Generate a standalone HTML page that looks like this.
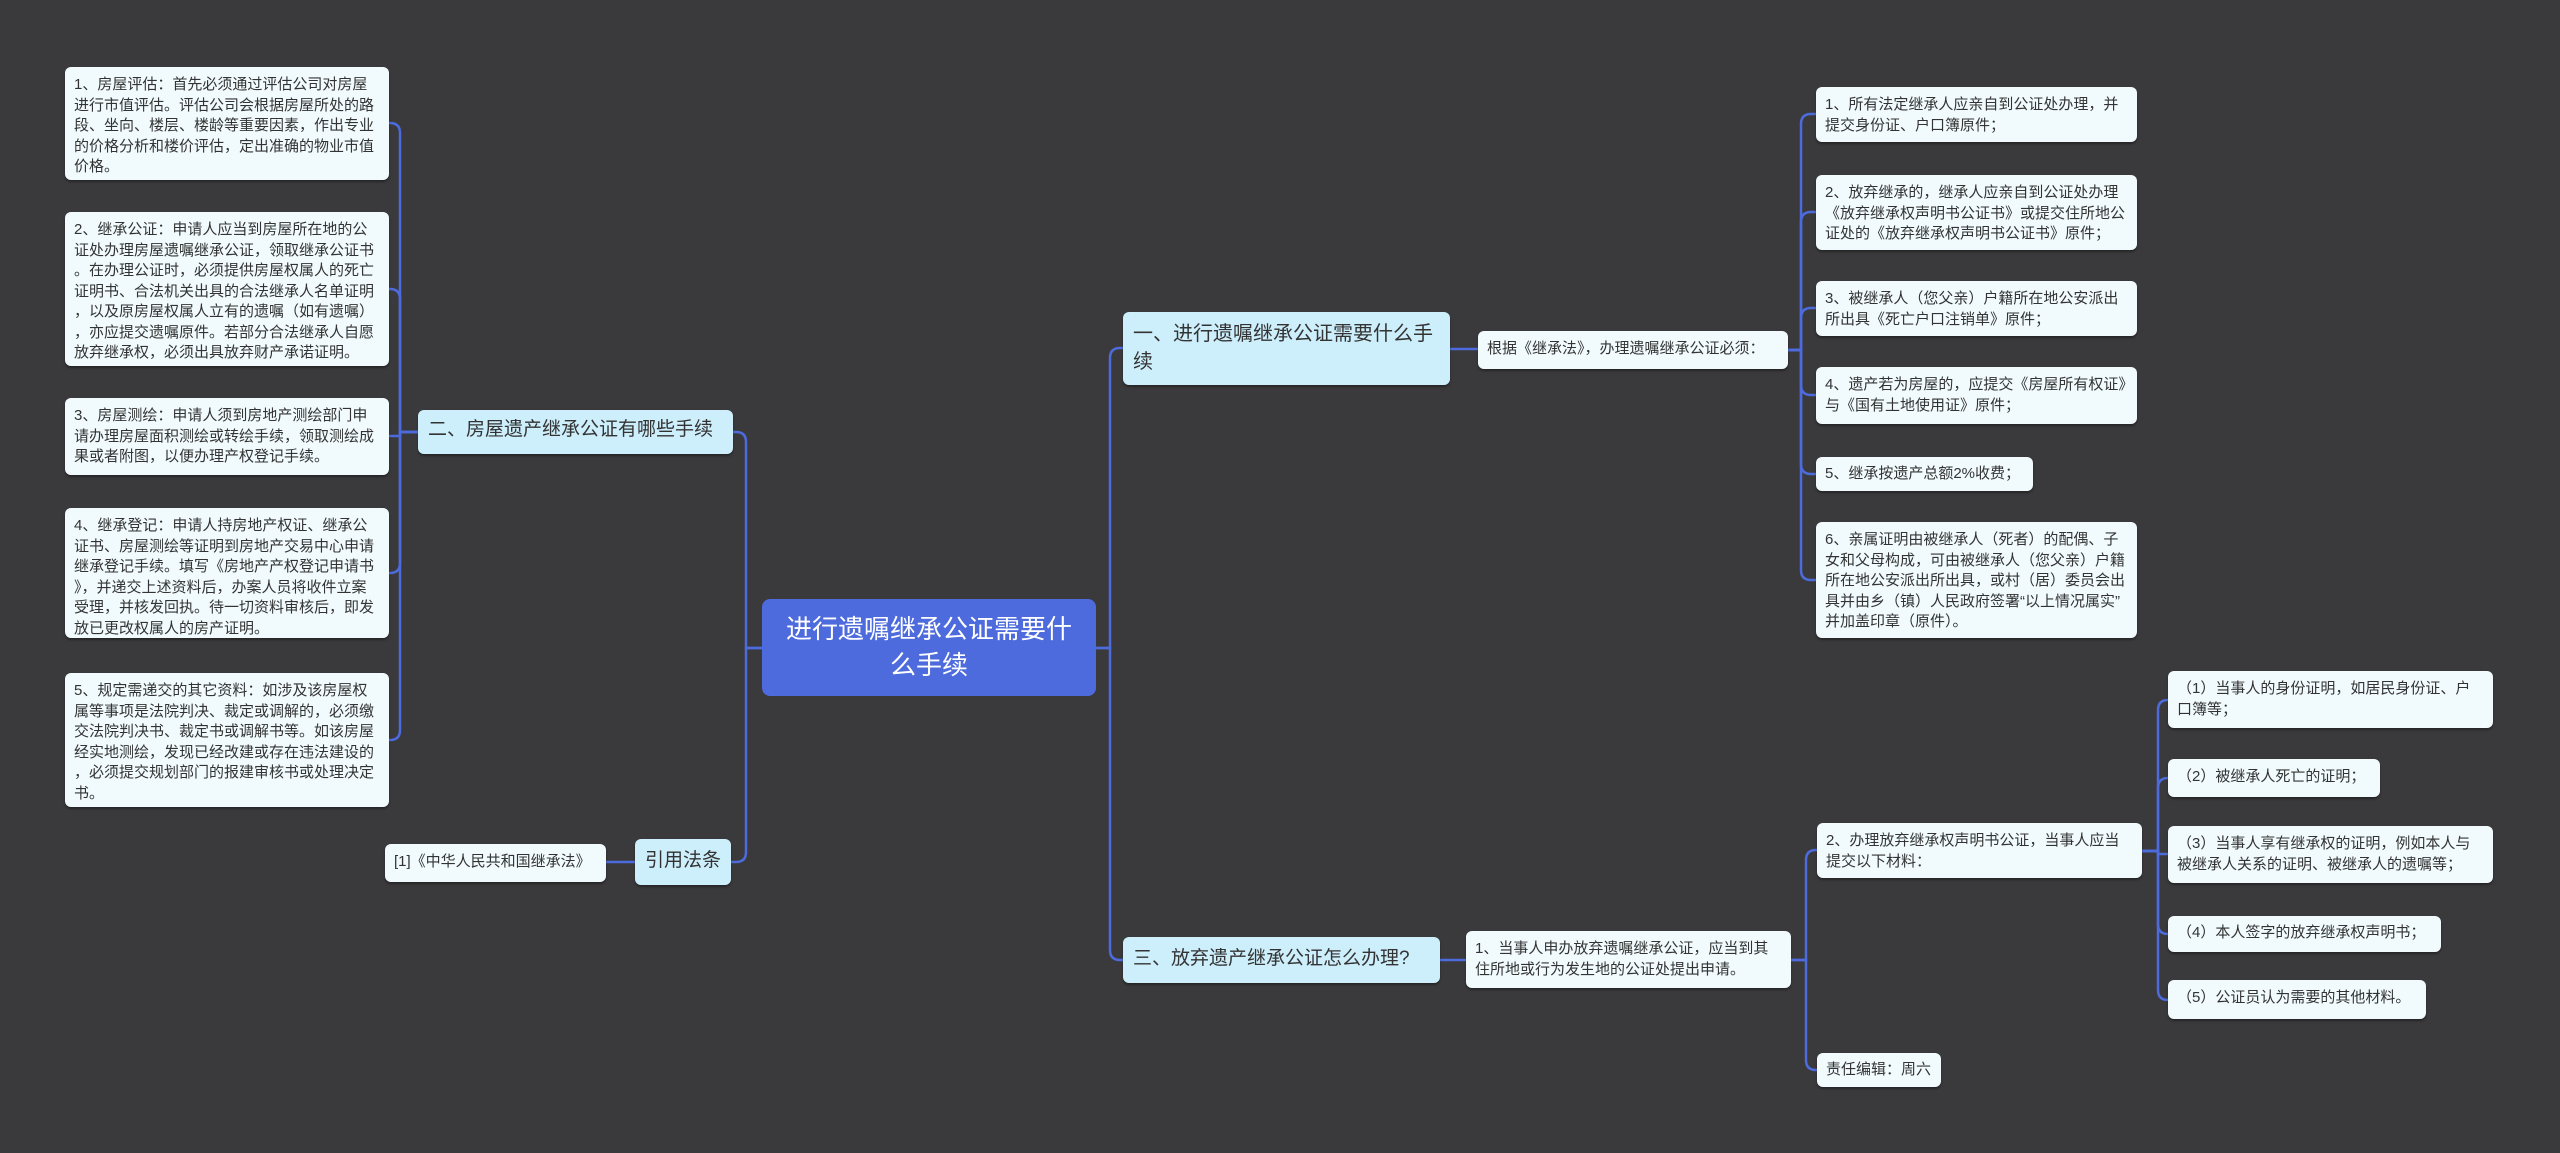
<!DOCTYPE html>
<html><head><meta charset="utf-8">
<style>
html,body{margin:0;padding:0;}
body{width:2560px;height:1153px;background:#3a393b;position:relative;overflow:hidden;font-family:"Liberation Sans","Noto Sans CJK SC",sans-serif;}
.b{position:absolute;box-sizing:border-box;background:#f1fbfe;border-radius:6px;color:#333;font-size:15px;line-height:20.5px;padding:8px 9px;box-shadow:0 2px 2px rgba(0,0,0,.35);word-break:break-all;line-break:anywhere;overflow:hidden;}
.n{position:absolute;box-sizing:border-box;background:#cdeefb;border-radius:6px;color:#333;font-size:19px;line-height:28px;padding:6px 10px;box-shadow:0 2px 2px rgba(0,0,0,.35);word-break:break-all;line-break:anywhere;}
.c{position:absolute;box-sizing:border-box;background:#4d6bdc;border-radius:8px;color:#fff;font-size:26px;line-height:36px;text-align:center;padding:12px 16px;}
svg{position:absolute;left:0;top:0;}
</style></head><body>
<svg width="2560" height="1153" fill="none" stroke="#4d6bdc" stroke-width="2.5">
<path d="M762 648 L746 648 L746 442 Q746 432 736 432 L733 432"/>
<path d="M762 648 L746 648 L746 852 Q746 862 736 862 L731 862"/>
<path d="M418 432 L400 432 L400 133 Q400 123 390 123 L389 123"/>
<path d="M418 432 L400 432 L400 299 Q400 289 390 289 L389 289"/>
<path d="M418 432 L400 432 L400 436 L389 436"/>
<path d="M418 432 L400 432 L400 563 Q400 573 390 573 L389 573"/>
<path d="M418 432 L400 432 L400 730 Q400 740 390 740 L389 740"/>
<path d="M635 862 L606 862"/>
<path d="M1096 648 L1110 648 L1110 358 Q1110 348 1120 348 L1123 348"/>
<path d="M1096 648 L1110 648 L1110 950 Q1110 960 1120 960 L1123 960"/>
<path d="M1450 349 L1478 349"/>
<path d="M1788 350 L1801 350 L1801 124 Q1801 114 1811 114 L1816 114"/>
<path d="M1788 350 L1801 350 L1801 222 Q1801 212 1811 212 L1816 212"/>
<path d="M1788 350 L1801 350 L1801 318 Q1801 308 1811 308 L1816 308"/>
<path d="M1788 350 L1801 350 L1801 385 Q1801 395 1811 395 L1816 395"/>
<path d="M1788 350 L1801 350 L1801 464 Q1801 474 1811 474 L1816 474"/>
<path d="M1788 350 L1801 350 L1801 570 Q1801 580 1811 580 L1816 580"/>
<path d="M1440 960 L1466 960"/>
<path d="M1791 960 L1806 960 L1806 860 Q1806 850 1816 850 L1817 850"/>
<path d="M1791 960 L1806 960 L1806 1060 Q1806 1070 1816 1070 L1817 1070"/>
<path d="M2142 851 L2158 851 L2158 710 Q2158 700 2168 700"/>
<path d="M2142 851 L2158 851 L2158 788 Q2158 778 2168 778"/>
<path d="M2142 851 L2158 851 L2158 854 L2168 854"/>
<path d="M2142 851 L2158 851 L2158 924 Q2158 934 2168 934"/>
<path d="M2142 851 L2158 851 L2158 990 Q2158 1000 2168 1000"/>
</svg>

<div class="c" style="left:762px;top:599px;width:334px;height:97px;">进行遗嘱继承公证需要什么手续</div>

<div class="n" style="left:418px;top:410px;width:315px;height:44px;">二、房屋遗产继承公证有哪些手续</div>
<div class="n" style="left:635px;top:839px;width:96px;height:46px;padding-top:8px;">引用法条</div>
<div class="b" style="left:385px;top:844px;width:221px;height:38px;padding-top:8px;white-space:nowrap;">[1]《中华人民共和国继承法》</div>

<div class="b" style="left:65px;top:67px;width:324px;height:113px;">1、房屋评估：首先必须通过评估公司对房屋进行市值评估。评估公司会根据房屋所处的路段、坐向、楼层、楼龄等重要因素，作出专业的价格分析和楼价评估，定出准确的物业市值价格。</div>
<div class="b" style="left:65px;top:212px;width:324px;height:154px;">2、继承公证：申请人应当到房屋所在地的公证处办理房屋遗嘱继承公证，领取继承公证书。在办理公证时，必须提供房屋权属人的死亡证明书、合法机关出具的合法继承人名单证明，以及原房屋权属人立有的遗嘱（如有遗嘱），亦应提交遗嘱原件。若部分合法继承人自愿放弃继承权，必须出具放弃财产承诺证明。</div>
<div class="b" style="left:65px;top:398px;width:324px;height:77px;">3、房屋测绘：申请人须到房地产测绘部门申请办理房屋面积测绘或转绘手续，领取测绘成果或者附图，以便办理产权登记手续。</div>
<div class="b" style="left:65px;top:508px;width:324px;height:130px;">4、继承登记：申请人持房地产权证、继承公证书、房屋测绘等证明到房地产交易中心申请继承登记手续。填写《房地产产权登记申请书》，并递交上述资料后，办案人员将收件立案受理，并核发回执。待一切资料审核后，即发放已更改权属人的房产证明。</div>
<div class="b" style="left:65px;top:673px;width:324px;height:134px;">5、规定需递交的其它资料：如涉及该房屋权属等事项是法院判决、裁定或调解的，必须缴交法院判决书、裁定书或调解书等。如该房屋经实地测绘，发现已经改建或存在违法建设的，必须提交规划部门的报建审核书或处理决定书。</div>

<div class="n" style="left:1123px;top:312px;width:327px;height:73px;font-size:20px;padding:8px 10px;">一、进行遗嘱继承公证需要什么手续</div>
<div class="b" style="left:1478px;top:331px;width:310px;height:38px;white-space:nowrap;">根据《继承法》，办理遗嘱继承公证必须：</div>
<div class="b" style="left:1816px;top:87px;width:321px;height:55px;">1、所有法定继承人应亲自到公证处办理，并提交身份证、户口簿原件；</div>
<div class="b" style="left:1816px;top:175px;width:321px;height:75px;">2、放弃继承的，继承人应亲自到公证处办理《放弃继承权声明书公证书》或提交住所地公证处的《放弃继承权声明书公证书》原件；</div>
<div class="b" style="left:1816px;top:281px;width:321px;height:55px;">3、被继承人（您父亲）户籍所在地公安派出所出具《死亡户口注销单》原件；</div>
<div class="b" style="left:1816px;top:367px;width:321px;height:57px;">4、遗产若为房屋的，应提交《房屋所有权证》与《国有土地使用证》原件；</div>
<div class="b" style="left:1816px;top:457px;width:217px;height:34px;padding-top:7px;white-space:nowrap;">5、继承按遗产总额2%收费；</div>
<div class="b" style="left:1816px;top:522px;width:321px;height:116px;">6、亲属证明由被继承人（死者）的配偶、子女和父母构成，可由被继承人（您父亲）户籍所在地公安派出所出具，或村（居）委员会出具并由乡（镇）人民政府签署“以上情况属实”并加盖印章（原件）。</div>

<div class="n" style="left:1123px;top:937px;width:317px;height:46px;padding-top:8px;white-space:nowrap;">三、放弃遗产继承公证怎么办理?</div>
<div class="b" style="left:1466px;top:931px;width:325px;height:57px;">1、当事人申办放弃遗嘱继承公证，应当到其住所地或行为发生地的公证处提出申请。</div>
<div class="b" style="left:1817px;top:823px;width:325px;height:55px;">2、办理放弃继承权声明书公证，当事人应当提交以下材料：</div>
<div class="b" style="left:1817px;top:1053px;width:124px;height:34px;padding-top:7px;white-space:nowrap;">责任编辑：周六</div>
<div class="b" style="left:2168px;top:671px;width:325px;height:57px;">（1）当事人的身份证明，如居民身份证、户口簿等；</div>
<div class="b" style="left:2168px;top:759px;width:212px;height:38px;white-space:nowrap;">（2）被继承人死亡的证明；</div>
<div class="b" style="left:2168px;top:826px;width:325px;height:57px;">（3）当事人享有继承权的证明，例如本人与被继承人关系的证明、被继承人的遗嘱等；</div>
<div class="b" style="left:2168px;top:916px;width:273px;height:36px;padding-top:7px;white-space:nowrap;">（4）本人签字的放弃继承权声明书；</div>
<div class="b" style="left:2168px;top:980px;width:258px;height:39px;white-space:nowrap;">（5）公证员认为需要的其他材料。</div>
</body></html>
